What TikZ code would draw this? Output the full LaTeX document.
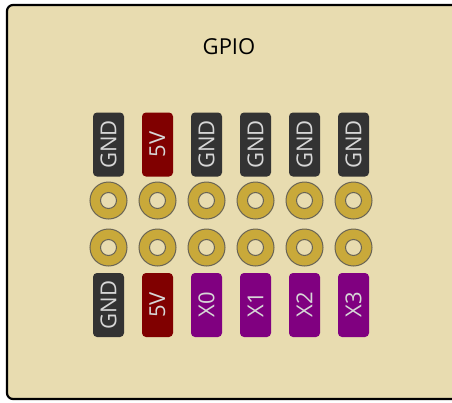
\documentclass[tikz,border=0pt]{standalone}
\usepackage{fontspec}
\setmainfont{Open Sans}
\definecolor{board}{RGB}{232,220,176}
\definecolor{gndc}{RGB}{51,51,51}
\definecolor{pwrc}{RGB}{128,0,0}
\definecolor{gpioc}{RGB}{128,0,128}
\definecolor{gold}{RGB}{201,169,58}
\definecolor{ringline}{RGB}{105,100,85}
\definecolor{pintext}{RGB}{215,215,215}
\tikzset{
  pinlabel/.style={draw=none, rounded corners=4pt, minimum width=31pt, minimum height=64pt, inner sep=0pt},
  pintxt/.style={rotate=90, text=pintext, font=\fontsize{22}{22}\selectfont, inner sep=0pt},
  ring/.style={circle, fill=gold, draw=ringline, line width=1pt, minimum size=37pt, inner sep=0pt},
  hole/.style={circle, fill=board, draw=ringline, line width=1pt, minimum size=16pt, inner sep=0pt},
}
\begin{document}
\begin{tikzpicture}[x=1pt,y=-1pt]
\useasboundingbox (0,0) rectangle (452,402);
\draw[fill=board, line width=2.2pt, rounded corners=6pt] (7,5) rectangle (470,399);
\node[font=\fontsize{22}{22}\selectfont] (title) at (229,47) {GPIO};
\foreach \i/\x/\cA/\lA/\cB/\lB in {1/108.5/gndc/GND/gndc/GND, 2/157.5/pwrc/5V/pwrc/5V, 3/206.5/gndc/GND/gpioc/X0, 4/255.5/gndc/GND/gpioc/X1, 5/304.5/gndc/GND/gpioc/X2, 6/353.5/gndc/GND/gpioc/X3}{
  \node[pinlabel, fill=\cA] (t\i) at (\x,144.5) {};
  \node[pintxt] (tt\i) at (t\i) {\lA};
  \node[ring] (ra\i) at (\x,200.5) {};
  \node[hole] (ha\i) at (ra\i) {};
  \node[ring] (rb\i) at (\x,247.5) {};
  \node[hole] (hb\i) at (rb\i) {};
  \node[pinlabel, fill=\cB] (b\i) at (\x,305) {};
  \node[pintxt] (bt\i) at (b\i) {\lB};
}
\end{tikzpicture}
\end{document}
